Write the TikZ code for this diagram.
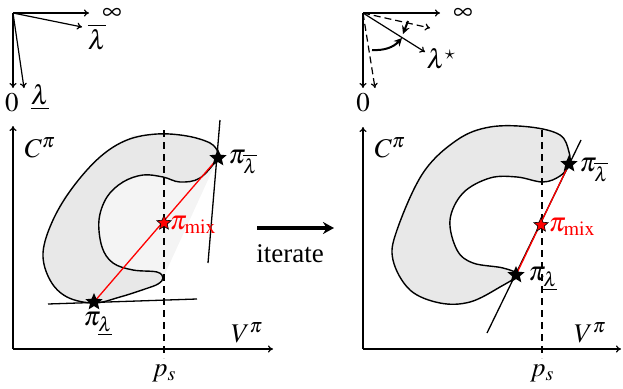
\documentclass[tikz,border=0pt]{standalone}
\usepackage{mathptmx}
\usepackage{fontspec}
\setmainfont{Liberation Serif}
\usetikzlibrary{arrows.meta,shapes.geometric}
\begin{document}
\begin{tikzpicture}[x=1pt,y=-1pt,
  ax/.style={-{To[length=5pt,width=7pt]}, line width=1.2pt},
  bl/.style={draw=black, line width=1.4pt, fill=gray!18},
  tanl/.style={line width=1.3pt},
  psl/.style={line width=1.2pt, dash pattern=on 7pt off 5pt},
  starb/.style={star, star points=5, star point ratio=2.2, fill=black, inner sep=0pt, minimum size=18pt},
  starr/.style={star, star points=5, star point ratio=2.2, fill=red, draw=black, line width=0.6pt, inner sep=0pt, minimum size=15pt},
  lab/.style={font=\fontsize{27}{32}\selectfont, inner sep=0pt},
  thickarr/.style={-{Stealth[length=8pt,width=8pt]}, line width=2pt},
]
\useasboundingbox (0,0) rectangle (623,388);

% ---------- left inset ----------
\coordinate (io1) at (13,13);
\coordinate (ir1) at (89,13);
\coordinate (iu1) at (82,27);
\coordinate (id1) at (13,88);
\coordinate (il1) at (24,88);
\draw[ax] (io1) -- (ir1);
\draw[ax] (io1) -- (iu1);
\draw[ax] (io1) -- (id1);
\draw[ax] (io1) -- (il1);
\node[lab] (inf1) at (112,14.5) {$\infty$};
\node[lab] (lu1) at (97,37) {$\overline{\lambda}$};
\node[lab] (z1) at (12,103) {$0$};
\node[lab] (ll1) at (40,97) {$\underline{\lambda}$};

% ---------- left main ----------
\coordinate (o1) at (13,349);
\coordinate (yt1) at (13,126);
\coordinate (xr1) at (273,349);
\fill[gray!9] (218,158) -- (164,276) -- (94,303) -- (47,273) -- (60,200) -- (133,135) -- (210,141) -- cycle;
\draw[bl] plot[smooth cycle, tension=0.6] coordinates {
 (218,158) (200,178) (180,182) (163,177) (143,175) (123,182) (107,197) (99,220) (102,247)
 (113,263) (133,270) (157,272) (163,278) (158,284) (145,289) (120,297) (94,303)
 (67,297) (50,280) (43,253) (53,220) (73,187) (100,157) (127,140) (157,134) (187,136) (210,143) (218,152)};
\coordinate (ps1t) at (164,130);
\coordinate (ps1b) at (164,358);
\draw[psl] (ps1t) -- (ps1b);
\draw[ax] (o1) -- (yt1);
\draw[ax] (o1) -- (xr1);
\coordinate (t1a) at (220,120);
\coordinate (t1b) at (208,263);
\coordinate (t2a) at (48,304);
\coordinate (t2b) at (197,299);
\draw[tanl] (t1a) -- (t1b);
\draw[tanl] (t2a) -- (t2b);
\coordinate (pu1c) at (218,158);
\coordinate (pl1c) at (94,302);
\draw[red, line width=1.3pt] (pl1c) -- (pu1c);
\node[starb] (pu1) at (pu1c) {};
\node[starb] (pl1) at (pl1c) {};
\node[starr] (pm1) at (164,223) {};
\node[lab] (C1) at (40,148) {$C^\pi$};
\node[lab] (V1) at (247,333) {$V^\pi$};
\node[lab] (p1) at (164,373) {$p_s$};
\node[lab] (lpu1) at (243,162) {$\pi_{\overline{\lambda}}$};
\node[lab] (lpl1) at (98,324) {$\pi_{\underline{\lambda}}$};
\node[lab, text=red] (lpm1) at (193,225) {$\pi_{\mathrm{mix}}$};

% ---------- iterate ----------
\coordinate (ia) at (257,228);
\coordinate (ib) at (334,228);
\draw[-{Stealth[length=11pt,width=12pt]}, line width=3.5pt] (ia) -- (ib);
\node[lab] (it) at (290,254) {iterate};

% ---------- right inset ----------
\coordinate (io2) at (363,13);
\coordinate (ir2) at (440,13);
\coordinate (iu2) at (430,28);
\coordinate (is2) at (425,52);
\coordinate (id2) at (363,88);
\coordinate (il2) at (375,88);
\draw[ax] (io2) -- (ir2);
\draw[ax, dash pattern=on 7pt off 4pt] (io2) -- (iu2);
\draw[ax] (io2) -- (is2);
\draw[ax] (io2) -- (id2);
\draw[ax, dash pattern=on 7pt off 4pt] (io2) -- (il2);
\coordinate (ba) at (372,50);
\coordinate (bb) at (402,38);
\draw[thickarr] (ba) to[bend right=25] (bb);
\coordinate (bc) at (408,21);
\coordinate (bd) at (403,34);
\draw[thickarr] (bc) -- (bd);
\node[lab] (inf2) at (463,14.5) {$\infty$};
\node[lab] (ls2) at (441,59) {$\lambda^\star$};
\node[lab] (z2) at (363,103) {$0$};

% ---------- right main ----------
\coordinate (o2) at (363,349);
\coordinate (yt2) at (363,127);
\coordinate (xr2) at (621,349);
\draw[bl] plot[smooth cycle, tension=0.6] coordinates {
 (569,165) (560,176) (543,182) (517,177) (490,178) (463,193) (450,220) (457,250) (473,263) (503,268)
 (517,275) (500,287) (470,302) (440,303) (410,290) (393,260) (397,230) (423,173) (457,140)
 (490,127) (530,127) (560,135) (569,152)};
\coordinate (ps2t) at (542,130);
\coordinate (ps2b) at (542,358);
\draw[psl] (ps2t) -- (ps2b);
\draw[ax] (o2) -- (yt2);
\draw[ax] (o2) -- (xr2);
\coordinate (t3a) at (581,140);
\coordinate (t3b) at (487,333);
\draw[tanl] (t3a) -- (t3b);
\coordinate (pu2c) at (569,164);
\coordinate (pl2c) at (516,275);
\draw[red, line width=1.3pt] (pl2c) -- (pu2c);
\node[starb] (pu2) at (pu2c) {};
\node[starb] (pl2) at (pl2c) {};
\node[starr] (pm2) at (541,225) {};
\node[lab] (C2) at (390,148) {$C^\pi$};
\node[lab] (V2) at (590,333) {$V^\pi$};
\node[lab] (p2) at (542,373) {$p_s$};
\node[lab] (lpu2) at (594,170) {$\pi_{\overline{\lambda}}$};
\node[lab] (lpl2) at (543,279) {$\pi_{\underline{\lambda}}$};
\node[lab, text=red] (lpm2) at (572,227) {$\pi_{\mathrm{mix}}$};
\end{tikzpicture}
\end{document}
